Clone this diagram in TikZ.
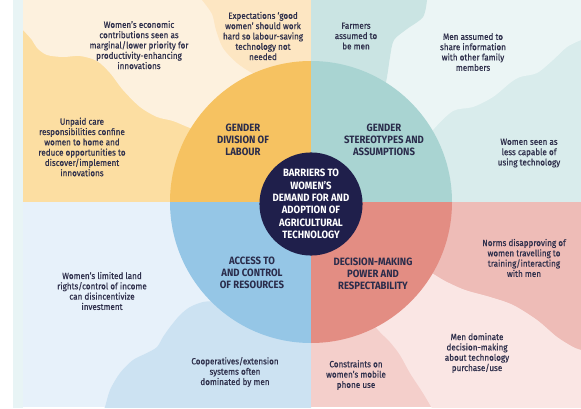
\documentclass[tikz,border=0pt]{standalone}
\usepackage{fontspec}
\setmainfont{Fira Sans}[FakeStretch=0.9]
\newfontfamily\notefont{Fira Sans}[FakeStretch=0.9, FakeBold=0.6]
\definecolor{stripc}{HTML}{E8F4F5}
\definecolor{tlbase}{HTML}{FCDEA2}
\definecolor{tllight}{HTML}{FDF1DE}
\definecolor{tlmid}{HTML}{FDE6C2}
\definecolor{cyel}{HTML}{F6C261}
\definecolor{trbase}{HTML}{D9ECEC}
\definecolor{trlight}{HTML}{EBF5F5}
\definecolor{trmid}{HTML}{CAE4E3}
\definecolor{cteal}{HTML}{A9D4D2}
\definecolor{blbase}{HTML}{E7F1FA}
\definecolor{blblob}{HTML}{CCE2F2}
\definecolor{cblue}{HTML}{95C6E6}
\definecolor{brbase}{HTML}{F4CFCB}
\definecolor{brnorm}{HTML}{EEBCB7}
\definecolor{brlight}{HTML}{FAE6E4}
\definecolor{cred}{HTML}{E38D83}
\definecolor{navy}{HTML}{1F1F4B}
\definecolor{txt}{HTML}{2F304C}
\definecolor{lbl}{HTML}{2A2C4B}
\tikzset{
  note/.style={align=center, text=txt, inner sep=0pt, font=\notefont\fontsize{9}{10.3}\selectfont},
  cat/.style={align=center, text=lbl, inner sep=0pt, font=\fontsize{10.6}{12}\selectfont\bfseries},
  hub/.style={circle, fill=navy, minimum size=102pt, inner sep=0pt, align=center, text=white, font=\fontsize{10.6}{12.3}\selectfont\bfseries}
}
\begin{document}
\begin{tikzpicture}[x=1pt,y=-1pt]
\useasboundingbox (0,0) rectangle (581,409);
\fill[white] (0,0) rectangle (581,409);
\fill[stripc] (13,0) rectangle (23,408);
% top-left quadrant
\begin{scope}
\clip (23,0) rectangle (311,202);
\fill[tlbase] (23,0) rectangle (311,202);
\fill[tllight] plot[smooth] coordinates {(23,30) (32,40) (37,48) (47,55) (63,57) (80,56) (97,61) (110,73) (123,90) (140,107) (157,117) (173,121) (190,128) (210,135)} -- (270,110) -- (270,0) -- (23,0) -- cycle;
\fill[tlmid] plot[smooth] coordinates {(202,0) (212,14) (216,30) (223,48) (237,63) (252,73) (270,82)} -- (311,82) -- (311,0) -- cycle;
\end{scope}
% top-right quadrant
\begin{scope}
\clip (311,0) rectangle (581,202);
\fill[trbase] (311,0) rectangle (581,202);
\fill[trlight] plot[smooth] coordinates {(581,40) (567,47) (553,60) (537,73) (520,77) (510,83) (493,97) (473,107) (453,111) (433,130) (420,150)} -- (370,100) -- (370,0) -- (581,0) -- cycle;
\fill[trmid] plot[smooth] coordinates {(427,0) (423,17) (407,29) (394,40) (390,57) (387,77) (382,100)} -- (311,100) -- (311,0) -- cycle;
\end{scope}
% bottom-left quadrant
\begin{scope}
\clip (23,202) rectangle (311,407);
\fill[blbase] (23,202) rectangle (311,407);
\fill[blblob] plot[smooth] coordinates {(103,410) (105,407) (110,390) (120,373) (133,360) (147,353) (157,347) (163,337) (170,327) (180,315) (190,307) (203,302) (217,301) (240,300)} -- (311,300) -- (311,410) -- cycle;
\end{scope}
% bottom-right quadrant
\begin{scope}
\clip (311,202) rectangle (581,407);
\fill[brbase] (311,202) rectangle (581,407);
\fill[brnorm] (311,202) -- (581,202) -- plot[smooth] coordinates {(581,350) (573,347) (557,337) (537,320) (513,305) (490,297) (465,290) (445,281) (430,272)} -- (415,240) -- cycle;
\fill[brlight] plot[smooth] coordinates {(365,315) (380,332) (390,342) (400,355) (410,373) (423,393) (433,410)} -- (581,410) -- plot[smooth] coordinates {(581,350) (573,347) (557,337) (537,320) (513,305) (490,297) (465,290) (445,281) (430,272) (420,268)} -- cycle;
\end{scope}
% big circle quadrants
\begin{scope}\clip (311,202) rectangle (160,50); \fill[cyel] (311,202) circle[radius=141]; \end{scope}
\begin{scope}\clip (311,202) rectangle (460,50); \fill[cteal] (311,202) circle[radius=141]; \end{scope}
\begin{scope}\clip (311,202) rectangle (160,350); \fill[cblue] (311,202) circle[radius=141]; \end{scope}
\begin{scope}\clip (311,202) rectangle (460,350); \fill[cred] (311,202) circle[radius=141]; \end{scope}
% hub
\node[hub] (hub) at (311,204) {BARRIERS TO\\WOMEN’S\\DEMAND FOR AND\\ADOPTION OF\\AGRICULTURAL\\TECHNOLOGY};
% categories
\node[cat] (labour) at (243,140) {GENDER\\DIVISION OF\\LABOUR};
\node[cat] (stereo) at (384,140) {GENDER\\STEREOTYPES AND\\ASSUMPTIONS};
\node[cat] (access) at (252,273) {ACCESS TO\\AND CONTROL\\OF RESOURCES};
\node[cat] (decision) at (373,274) {DECISION-MAKING\\POWER AND\\RESPECTABILITY};
% notes
\node[note] (econ) at (139,45) {Women’s economic\\contributions seen as\\marginal/lower priority for\\productivity-enhancing\\innovations};
\node[note] (expect) at (263,36) {Expectations ‘good\\women’ should work\\hard so labour-saving\\technology not\\needed};
\node[note] (unpaid) at (82,147) {Unpaid care\\responsibilities confine\\women to home and\\reduce opportunities to\\discover/implement\\innovations};
\node[note] (farmers) at (356,36) {Farmers\\assumed to\\be men};
\node[note] (share) at (473,52) {Men assumed to\\share information\\with other family\\members};
\node[note] (capable) at (529,153) {Women seen as\\less capable of\\using technology};
\node[note] (land) at (102,291) {Women’s limited land\\rights/control of income\\can disincentivize\\investment};
\node[note] (coop) at (235,372) {Cooperatives/extension\\systems often\\dominated by men};
\node[note] (norms) at (524,258) {Norms disapproving of\\women travelling to\\training/interacting\\with men};
\node[note] (dominate) at (477,353) {Men dominate\\decision-making\\about technology\\purchase/use};
\node[note] (phone) at (356,375) {Constraints on\\women’s mobile\\phone use};
\end{tikzpicture}
\end{document}
